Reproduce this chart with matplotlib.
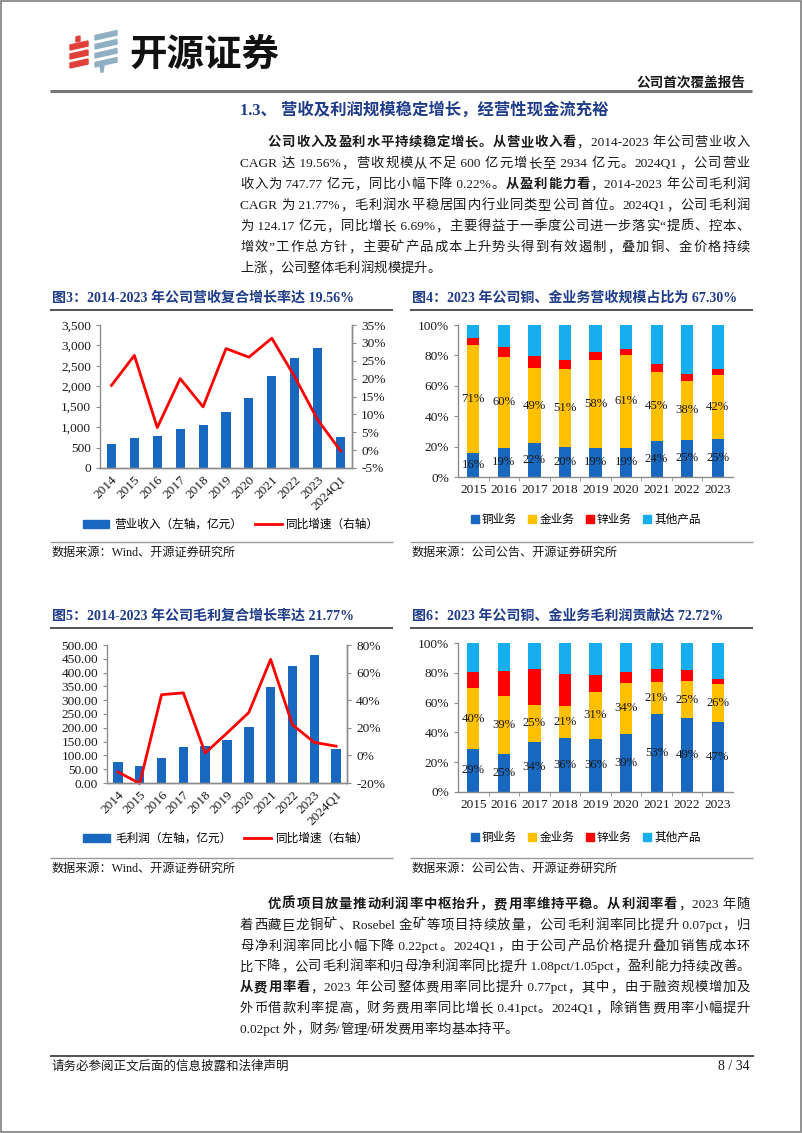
import re
import matplotlib
matplotlib.use("Agg")
import matplotlib.pyplot as plt
from matplotlib.patches import Polygon, Rectangle, Patch
from matplotlib.lines import Line2D

plt.rcParams["font.family"] = ["Liberation Serif", "Noto Sans CJK SC"]
plt.rcParams["axes.unicode_minus"] = False

# ---- 数据 ----
years_a = ["2014", "2015", "2016", "2017", "2018", "2019", "2020", "2021", "2022", "2023", "2024Q1"]
revenue = [587, 743, 788, 945, 1060, 1361, 1715, 2251, 2703, 2934, 748]
revenue_yoy = [18.1, 26.5, 6.3, 20.0, 12.1, 28.4, 26.0, 31.3, 20.5, 8.5, -0.2]
gross_profit = [77, 61.4, 89, 131, 132.5, 154, 203.6, 347, 424, 464, 124.2]
gross_profit_yoy = [-12.0, -20.3, 44.0, 45.3, 1.7, 16.2, 31.1, 69.6, 22.2, 9.4, 6.7]

years_b = ["2015", "2016", "2017", "2018", "2019", "2020", "2021", "2022", "2023"]
seg_names = ["铜业务", "金业务", "锌业务", "其他产品"]
rev_copper = [15.6, 19.1, 22.2, 19.8, 19.1, 19.1, 24.0, 24.6, 25.1]
rev_gold = [71.0, 60.0, 49.4, 51.0, 57.8, 61.4, 45.2, 38.5, 42.2]
rev_zinc = [5.0, 6.4, 8.0, 6.1, 5.5, 3.7, 5.3, 4.6, 3.5]
rev_other = [8.4, 14.5, 20.4, 23.1, 17.6, 15.8, 25.5, 32.3, 29.2]
gp_copper = [29.0, 25.4, 33.6, 36.3, 35.9, 39.0, 52.6, 49.4, 47.2]
gp_gold = [40.5, 39.2, 25.0, 21.4, 30.9, 34.4, 21.3, 24.8, 25.52]
gp_zinc = [10.9, 16.7, 24.0, 21.4, 11.4, 7.0, 8.5, 7.5, 3.4]
gp_other = [19.6, 18.7, 17.4, 20.9, 21.8, 19.6, 17.6, 18.3, 23.88]

# ---- 样式 ----
W, H = 802, 1133
BLUE_BAR = "#1768BE"
GOLD = "#FFC000"
ZINC = "#FF0000"
OTHER = "#17AEEF"
TITLE_BLUE = "#1F3C88"
SPINE = "#8C8C8C"
TXT = "#1A1A1A"
TICK_FS = 9.6
LEG_FS = 8.4

fig = plt.figure(figsize=(W / 100, H / 100), dpi=100)
page = fig.add_axes([0, 0, 1, 1])
page.set_xlim(0, W)
page.set_ylim(H, 0)
page.axis("off")
renderer = fig.canvas.get_renderer()


def px_axes(x0, y0, x1, y1):
    return fig.add_axes([x0 / W, 1 - y1 / H, (x1 - x0) / W, (y1 - y0) / H], facecolor="none")


def hline(y, x0, x1, color, lw):
    page.plot([x0, x1], [y, y], color=color, lw=lw, solid_capstyle="butt")


def body_line(segs, y, x0=240, x1=750, size=9.6, justify=True):
    # 两端对齐：中文按字、西文按词切分，把剩余宽度平均分到间隙里
    toks = []
    for s, bold in segs:
        for part in re.findall(r"[\x00-\x7f]+|.", s):
            toks.append((part, bold))
    texts = [page.text(0, y, t, fontsize=size, color=TXT, va="baseline", ha="left",
                       fontweight="bold" if b else "normal") for t, b in toks]
    ws = [t.get_window_extent(renderer).width for t in texts]
    gap = (x1 - x0 - sum(ws)) / (len(ws) - 1) if justify and len(ws) > 1 else 0
    x = x0
    for t, w in zip(texts, ws):
        t.set_x(x)
        x += w + gap


# ---- 页眉 ----
page.add_patch(Rectangle((0.5, 0.5), W - 1.5, H - 1.5, fill=False, ec="#7F7F7F", lw=1.2))
for yc in [47, 56, 65]:
    page.add_patch(Polygon([(70, yc + 3), (88, yc - 1), (88, yc - 6), (70, yc - 2)], color="#E0403A"))
page.add_patch(Polygon([(76, 42), (80, 41), (80, 36), (76, 37)], color="#E0403A"))
for yc in [37, 46, 55, 64]:
    page.add_patch(Polygon([(95, yc + 3), (117, yc - 2), (117, yc - 6.5), (95, yc - 1.5)], color="#8FB0C2"))
page.add_patch(Polygon([(100, 65), (104, 65), (103, 72), (101, 72)], color="#8FB0C2"))
page.text(129, 54, "开源证券", fontsize=27, fontweight="bold", color="#111111",
          family="Noto Sans CJK SC", va="center", ha="left")
page.text(745, 83, "公司首次覆盖报告", fontsize=9.8, fontweight="bold", color=TXT,
          va="center", ha="right")
hline(90.5, 50, 752, "#777777", 2.2)

page.text(240, 110, "1.3、 营收及利润规模稳定增长，经营性现金流充裕", fontsize=11.8,
          fontweight="bold", color=TITLE_BLUE, va="center", ha="left")

# ---- 正文第一段 ----
para1 = [
    [("公司收入及盈利水平持续稳定增长。从营业收入看", True), ("，2014-2023 年公司营业收入", False)],
    [("CAGR 达 19.56%，营收规模从不足 600 亿元增长至 2934 亿元。2024Q1，公司营业", False)],
    [("收入为 747.77 亿元，同比小幅下降 0.22%。", False), ("从盈利能力看", True), ("，2014-2023 年公司毛利润", False)],
    [("CAGR 为 21.77%，毛利润水平稳居国内行业同类型公司首位。2024Q1，公司毛利润", False)],
    [("为 124.17 亿元，同比增长 6.69%，主要得益于一季度公司进一步落实“提质、控本、", False)],
    [("增效”工作总方针，主要矿产品成本上升势头得到有效遏制，叠加铜、金价格持续", False)],
    [("上涨，公司整体毛利润规模提升。", False)],
]
for i, segs in enumerate(para1):
    body_line(segs, 146 + i * 21, x0=268 if i == 0 else 240, justify=i < len(para1) - 1)

# ---- 正文第二段 ----
para2 = [
    [("优质项目放量推动利润率中枢抬升，费用率维持平稳。从利润率看", True), ("，2023 年随", False)],
    [("着西藏巨龙铜矿、Rosebel 金矿等项目持续放量，公司毛利润率同比提升 0.07pct，归", False)],
    [("母净利润率同比小幅下降 0.22pct。2024Q1，由于公司产品价格提升叠加销售成本环", False)],
    [("比下降，公司毛利润率和归母净利润率同比提升 1.08pct/1.05pct，盈利能力持续改善。", False)],
    [("从费用率看", True), ("，2023 年公司整体费用率同比提升 0.77pct，其中，由于融资规模增加及", False)],
    [("外币借款利率提高，财务费用率同比增长 0.41pct。2024Q1，除销售费用率小幅提升", False)],
    [("0.02pct 外，财务/管理/研发费用率均基本持平。", False)],
]
for i, segs in enumerate(para2):
    body_line(segs, 908 + i * 20.8, x0=268 if i == 0 else 240, justify=i < len(para2) - 1)

# ---- 页脚 ----
hline(1056, 50, 754, "#333333", 1.2)
page.text(52, 1067, "请务必参阅正文后面的信息披露和法律声明", fontsize=9, color=TXT, va="center")
page.text(750, 1067, "8 / 34", fontsize=10, color=TXT, va="center", ha="right")


# ---- 图表外框（标题、线、来源）----
def chart_frame(x0, x1, ytitle, title, ysrc, source):
    page.text(x0 + 2, ytitle, title, fontsize=10.1, fontweight="bold", color=TITLE_BLUE,
              va="center", ha="left")
    hline(ytitle + 12, x0, x1, "#333333", 1.2)
    hline(ysrc - 11, x0, x1, "#999999", 1.0)
    page.text(x0 + 2, ysrc, source, fontsize=8.7, color=TXT, va="center", ha="left")


chart_frame(50, 393, 298, "图3：2014-2023 年公司营收复合增长率达 19.56%", 553, "数据来源：Wind、开源证券研究所")
chart_frame(410, 753, 298, "图4：2023 年公司铜、金业务营收规模占比为 67.30%", 553, "数据来源：公司公告、开源证券研究所")
chart_frame(50, 393, 616, "图5：2014-2023 年公司毛利复合增长率达 21.77%", 869, "数据来源：Wind、开源证券研究所")
chart_frame(410, 753, 616, "图6：2023 年公司铜、金业务毛利润贡献达 72.72%", 869, "数据来源：公司公告、开源证券研究所")


def style_axes(ax, right=False):
    for s in ["top", "right", "left", "bottom"]:
        ax.spines[s].set_visible(False)
    ax.spines["bottom"].set_visible(True)
    ax.spines["left"].set_visible(True)
    if right:
        ax.spines["right"].set_visible(True)
    for s in ax.spines.values():
        s.set_color(SPINE)
        s.set_linewidth(1.0)
    ax.tick_params(axis="both", labelsize=TICK_FS, colors=SPINE, labelcolor=TXT, length=3, width=0.8)


def combo_chart(box, vals, yoy, lmax, lstep, lfmt, rmin, rmax, rstep, bar_label, width, legend_xy):
    ax = px_axes(*box)
    x = list(range(len(years_a)))
    ax.bar(x, vals, width=width, color=BLUE_BAR, label=bar_label, zorder=2)
    ax.set_xlim(-0.5, len(years_a) - 0.5)
    ax.set_ylim(0, lmax)
    ax.set_yticks([i * lstep for i in range(int(round(lmax / lstep)) + 1)])
    ax.set_yticklabels([lfmt(v) for v in ax.get_yticks()])
    ax.set_xticks(x)
    ax.set_xticklabels(years_a, rotation=45, ha="right", va="top", rotation_mode="anchor")
    style_axes(ax, right=True)
    ax.tick_params(axis="x", length=0, pad=4)
    ax2 = ax.twinx()
    ax2.plot(x, yoy, color="#FF0000", lw=2.0, label="同比增速（右轴）", clip_on=False)
    ax2.set_ylim(rmin, rmax)
    ax2.set_yticks(list(range(rmin, rmax + 1, rstep)))
    ax2.set_yticklabels(["%d%%" % v for v in range(rmin, rmax + 1, rstep)])
    style_axes(ax2, right=True)
    ax2.spines["left"].set_visible(False)
    ax2.set_facecolor("none")
    handles = [Patch(color=BLUE_BAR), Line2D([], [], color="#FF0000", lw=2.0)]
    fig.legend(handles, [bar_label, "同比增速（右轴）"], loc="center", ncol=2, frameon=False,
               bbox_to_anchor=(legend_xy[0] / W, 1 - legend_xy[1] / H), fontsize=LEG_FS,
               handlelength=2.3, handleheight=0.65, handletextpad=0.4, columnspacing=1.1)


combo_chart((100, 325, 352, 468), revenue, revenue_yoy, 3500, 500, lambda v: "{:,}".format(int(v)),
            -5, 35, 5, "营业收入（左轴，亿元）", 0.4, (231, 525))
combo_chart((107, 645, 347, 783), gross_profit, gross_profit_yoy, 500, 50, lambda v: "%.2f" % v,
            -20, 80, 20, "毛利润（左轴，亿元）", 0.43, (226, 839))


def stacked_chart(box, copper, gold, zinc, other, legend_xy):
    ax = px_axes(*box)
    x = list(range(len(years_b)))
    colors = [BLUE_BAR, GOLD, ZINC, OTHER]
    bottom = [0] * len(x)
    for vals, c, name in zip([copper, gold, zinc, other], colors, seg_names):
        ax.bar(x, vals, width=0.4, bottom=bottom, color=c, label=name, zorder=2)
        if name in ("铜业务", "金业务"):
            for xi, b, v in zip(x, bottom, vals):
                ax.text(xi, b + v / 2, "%.0f%%" % v, fontsize=9.2, color=TXT,
                        ha="center", va="center", zorder=3)
        bottom = [b + v for b, v in zip(bottom, vals)]
    ax.set_xlim(-0.5, len(x) - 0.5)
    ax.set_ylim(0, 100)
    ax.set_yticks(range(0, 101, 20))
    ax.set_yticklabels(["%d%%" % v for v in range(0, 101, 20)])
    ax.set_xticks(x)
    ax.set_xticklabels(years_b)
    style_axes(ax)
    ax.tick_params(axis="x", length=0, pad=5)
    ax.set_xticks([i + 0.5 for i in x[:-1]], minor=True)
    ax.tick_params(axis="x", which="minor", length=3, color=SPINE)
    handles = [Line2D([], [], marker="s", ls="", ms=5.5, color=c) for c in colors]
    fig.legend(handles, seg_names, loc="center", ncol=4, frameon=False,
               bbox_to_anchor=(legend_xy[0] / W, 1 - legend_xy[1] / H), fontsize=LEG_FS,
               handlelength=0.6, handletextpad=0.3, columnspacing=1.05)


stacked_chart((458, 325, 733, 477), rev_copper, rev_gold, rev_zinc, rev_other, (586, 520))
stacked_chart((458, 643, 733, 792), gp_copper, gp_gold, gp_zinc, gp_other, (586, 838))

fig.savefig("out.png", dpi=100)
